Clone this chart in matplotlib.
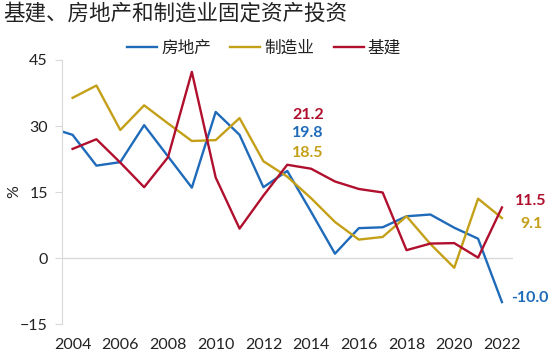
import matplotlib.pyplot as plt

plt.rcParams['font.family'] = ['Lato', 'Noto Sans CJK SC', 'DejaVu Sans']

# annual growth of fixed asset investment, %
years_re = list(range(2003, 2023))
real_estate = [29.7, 28.0, 21.0, 21.8, 30.2, 23.1, 16.0, 33.2, 28.0, 16.1,
               19.8, 10.5, 1.0, 6.8, 7.0, 9.5, 9.9, 6.9, 4.4, -10.0]
years = list(range(2004, 2023))
manufacturing = [36.4, 39.2, 29.1, 34.7, 30.6, 26.6, 26.8, 31.8, 22.0, 18.5,
                 13.6, 8.2, 4.2, 4.8, 9.5, 3.2, -2.2, 13.5, 9.1]
infrastructure = [24.8, 27.0, 21.7, 16.1, 22.9, 42.3, 18.3, 6.7, 14.2, 21.2,
                  20.3, 17.4, 15.7, 14.9, 1.8, 3.3, 3.4, 0.1, 11.5]

series_names = ['房地产', '制造业', '基建']
colors = ['#1F6BBA', '#C4A018', '#B0102E']
xticks = list(range(2004, 2023, 2))
yticks = [-15, 0, 15, 30, 45]

fig = plt.figure(figsize=(5.5, 3.55), dpi=100)
ax = fig.add_axes([0.112, 0.087, 0.821, 0.744])

ax.plot(years_re, real_estate, color=colors[0], lw=1.7, label=series_names[0])
ax.plot(years, manufacturing, color=colors[1], lw=1.7, label=series_names[1])
ax.plot(years, infrastructure, color=colors[2], lw=1.7, label=series_names[2])

ax.axhline(0, color='#d9d9d9', lw=1, zorder=0)

ax.set_xlim(2003.54, 2022.47)
ax.set_ylim(-15, 45)
ax.set_xticks(xticks)
ax.set_xticklabels([str(y) for y in xticks])
ax.set_yticks(yticks)
for s in ['top', 'right', 'bottom']:
    ax.spines[s].set_visible(False)
ax.spines['left'].set_color('#d9d9d9')
ax.tick_params(axis='y', length=5, color='#d9d9d9', labelsize=11.5, pad=5, labelcolor='#222222')
ax.tick_params(axis='x', length=0, labelsize=11.5, pad=10, labelcolor='#222222')
ax.set_ylabel('%', fontsize=11.5, labelpad=-1, color='#222222')

# value labels
bold = dict(fontsize=11.5, fontweight='bold')
i13 = years.index(2013)
ax.annotate(f'{infrastructure[i13]:.1f}', (2013, infrastructure[i13]), xytext=(3.6, 36),
            textcoords='offset points', color=colors[2], va='center', ha='left', **bold)
ax.annotate(f'{real_estate[years_re.index(2013)]:.1f}', (2013, real_estate[years_re.index(2013)]),
            xytext=(3.6, 27), textcoords='offset points', color=colors[0], va='center', ha='left', **bold)
ax.annotate(f'{manufacturing[i13]:.1f}', (2013, manufacturing[i13]), xytext=(3.6, 17),
            textcoords='offset points', color=colors[1], va='center', ha='left', **bold)

ax.annotate(f'{infrastructure[-1]:.1f}', (2022, infrastructure[-1]), xytext=(21, 5),
            textcoords='offset points', color=colors[2], va='center', ha='center',
            annotation_clip=False, **bold)
ax.annotate(f'{manufacturing[-1]:.1f}', (2022, manufacturing[-1]), xytext=(21, -4),
            textcoords='offset points', color=colors[1], va='center', ha='center',
            annotation_clip=False, **bold)
ax.annotate(f'{real_estate[-1]:.1f}', (2022, real_estate[-1]), xytext=(20, 3),
            textcoords='offset points', color=colors[0], va='center', ha='center',
            annotation_clip=False, **bold)

leg = fig.legend(loc='center', bbox_to_anchor=(0.48, 0.865), ncol=3, frameon=False,
                 handlelength=1.8, columnspacing=1.15, handletextpad=0.25,
                 prop={'family': ['Noto Sans CJK SC'], 'size': 12})
for t in leg.get_texts():
    t.set_color('#222222')

fig.text(0.005, 0.963, '基建、房地产和制造业固定资产投资', fontsize=15.5,
         family=['Noto Sans CJK SC'], va='center', ha='left', color='#222222')

fig.savefig('out.png', dpi=100)
